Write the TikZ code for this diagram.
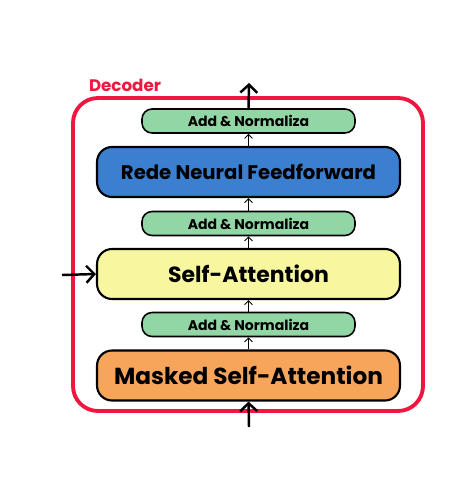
\documentclass[tikz,border=0pt]{standalone}
\usepackage{fontspec}
\setmainfont{Poppins}
\usetikzlibrary{arrows.meta}

\definecolor{addgreen}{HTML}{93D6A6}
\definecolor{ffnblue}{HTML}{3A7FD0}
\definecolor{sayellow}{HTML}{F8F69E}
\definecolor{msaorange}{HTML}{F8A55C}
\definecolor{decred}{HTML}{EF1740}

\begin{document}
\begin{tikzpicture}[x=0.02cm,y=-0.02cm,
    bigbox/.style={draw=black,line width=1.2pt,rounded corners=0.3cm,
        minimum width=6.06cm,minimum height=1cm,inner sep=0pt,
        font=\fontsize{13.2}{15}\selectfont\bfseries},
    addbox/.style={draw=black,line width=0.9pt,rounded corners=0.2cm,fill=addgreen,
        minimum width=4.26cm,minimum height=0.48cm,inner sep=0pt,
        font=\fontsize{8}{9}\selectfont\bfseries},
    bigarrow/.style={line width=1.4pt,-{Straight Barb[length=1.6mm,width=3.4mm,line width=1.4pt]}},
    smallarrow/.style={line width=0.5pt,-{Straight Barb[length=0.8mm,width=1.6mm]}},
    frame/.style={draw=decred,line width=2.2pt,rounded corners=0.5cm}]
        \useasboundingbox (0,0) rectangle (471,496);
        \coordinate (outtop) at (249,83);
        \coordinate (intop) at (249,427);
        \coordinate (inleft) at (62,275);
        % decoder frame
        \draw[frame] (73,98) rectangle (423,411);
        \node[text=decred,font=\fontsize{9.5}{11}\selectfont\bfseries] (declabel) at (125,85) {Decoder};
        % blocks
        \node[addbox] (add1) at (248.5,121) {Add \& Normaliza};
        \node[bigbox,fill=ffnblue,font=\fontsize{11.2}{13}\selectfont\bfseries] (ffn) at (248.5,172) {Rede Neural Feedforward};
        \node[addbox] (add2) at (248.5,223.5) {Add \& Normaliza};
        \node[bigbox,fill=sayellow,font=\fontsize{12.5}{14}\selectfont\bfseries] (sa) at (248.5,274) {Self-Attention};
        \node[addbox] (add3) at (248.5,324.5) {Add \& Normaliza};
        \node[bigbox,fill=msaorange] (msa) at (248.5,375.5) {Masked Self-Attention};
        % arrows
        \draw[smallarrow] (msa) -- (add3);
        \draw[smallarrow] (add3) -- (sa);
        \draw[smallarrow] (sa) -- (add2);
        \draw[smallarrow] (add2) -- (ffn);
        \draw[smallarrow] (ffn) -- (add1);
        \draw[bigarrow] (add1.north) -- (outtop);
        \draw[bigarrow] (intop) -- (msa.south);
        \draw[bigarrow] (inleft) -- (sa.west);
    \end{tikzpicture}
\end{document}
